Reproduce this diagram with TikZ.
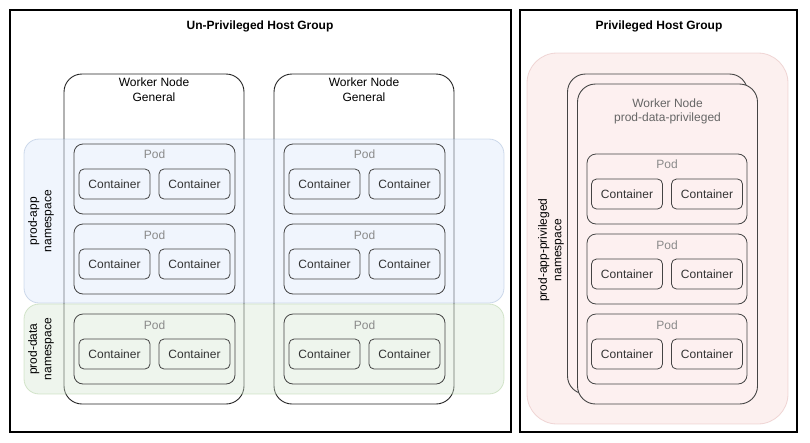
\documentclass[tikz,border=0pt]{standalone}
\usepackage{fontspec}
\setmainfont{Liberation Sans}
\usetikzlibrary{positioning}
\definecolor{boxline}{HTML}{444444}
\definecolor{podtext}{HTML}{8A8A8A}
\definecolor{nsblue}{HTML}{DAE8FC}
\definecolor{nsblueline}{HTML}{6C8EBF}
\definecolor{nsgreen}{HTML}{D5E8D4}
\definecolor{nsgreenline}{HTML}{82B366}
\definecolor{nspink}{HTML}{F8CECC}
\definecolor{nspinkline}{HTML}{B85450}
\definecolor{nspinkfill}{HTML}{FDF0F0}
\begin{document}
\begin{tikzpicture}[x=1pt, y=-1pt,
        font=\fontsize{12}{14.5}\selectfont,
        hostgroup/.style={draw=black, line width=1.1pt},
        worker/.style={draw=black!85, line width=0.9pt, rounded corners=18pt, minimum width=180pt},
        ns/.style={draw opacity=0.3, fill opacity=0.4, line width=0.8pt},
        pod/.style={draw=boxline, line width=0.8pt, rounded corners=9pt, minimum width=161pt, minimum height=70pt},
        podlabel/.style={text=podtext, inner sep=1pt},
        ctr/.style={draw=boxline, line width=0.8pt, rounded corners=5pt, minimum width=71pt, minimum height=30pt, inner sep=0pt, text=black!80}]
        \fill[white] (0,0) rectangle (810,442);
        \useasboundingbox (0,0) rectangle (810,442);
        % host groups
        \node[hostgroup, minimum width=501pt, minimum height=422pt] (unpriv) at (260.5,221) {};
        \node[font=\fontsize{12}{14.5}\selectfont\bfseries] (unprivTitle) at (260,26) {Un-Privileged Host Group};
        \node[hostgroup, minimum width=277pt, minimum height=422pt] (priv) at (658.5,221) {};
        \node[font=\fontsize{12}{14.5}\selectfont\bfseries] (privTitle) at (659,26) {Privileged Host Group};
        % general workers
        \node[worker, minimum height=330pt] (wnA) at (154,239) {};
        \node[align=center, inner sep=1pt, below=3.5pt of wnA.north] (wnAText) {Worker Node\\General};
        \node[worker, minimum height=330pt] (wnB) at (364,239) {};
        \node[align=center, inner sep=1pt, below=3.5pt of wnB.north] (wnBText) {Worker Node\\General};
        % namespaces over the workers
        \draw[ns, fill=nsblue, draw=nsblueline, rounded corners=15pt] (24,139) rectangle (504,303);
        \node[rotate=90, align=center] (nsApp) at (41,221) {prod-app\\namespace};
        \draw[ns, fill=nsgreen, draw=nsgreenline, rounded corners=15pt] (24,304) rectangle (504,394);
        \node[rotate=90, align=center] (nsData) at (41,349) {prod-data\\namespace};
        % pods on the general workers
        \foreach \w/\x in {A/154.5, B/364.5}{
            \foreach \p/\y in {1/179, 2/259, 3/349}{
                \node[pod] (pod\w\p) at (\x,\y) {};
                \node[podlabel, below=5.5pt of pod\w\p.north] (pod\w\p Text) {Pod};
                \node[ctr] (ctr\w\p-l) at (\x-40,\y+5) {Container};
                \node[ctr] (ctr\w\p-r) at (\x+40,\y+5) {Container};
            }
        }
        % privileged namespace and stacked workers
        \draw[ns, fill=nspink, draw=nspinkline, fill opacity=0.3, draw opacity=0.2, rounded corners=30pt] (527,53) rectangle (788,424);
        \node[rotate=90, align=center] (nsPriv) at (551,250) {prod-app-privileged\\namespace};
        \node[worker, draw=boxline, fill=nspinkfill, minimum height=320pt] (wnBack) at (657.5,234) {};
        \node[worker, draw=boxline, fill=nspinkfill, minimum height=320pt] (wnPriv) at (667.5,244) {};
        \node[align=center, inner sep=1pt, text=black!60, below=14pt of wnPriv.north] (wnPrivText) {Worker Node\\prod-data-privileged};
        \foreach \p/\y in {1/189, 2/269, 3/349}{
            \node[pod, minimum width=160pt] (podP\p) at (667,\y) {};
            \node[podlabel, below=5.5pt of podP\p.north] (podP\p Text) {Pod};
            \node[ctr] (ctrP\p-l) at (627,\y+5) {Container};
            \node[ctr] (ctrP\p-r) at (707,\y+5) {Container};
        }
    \end{tikzpicture}
\end{document}
